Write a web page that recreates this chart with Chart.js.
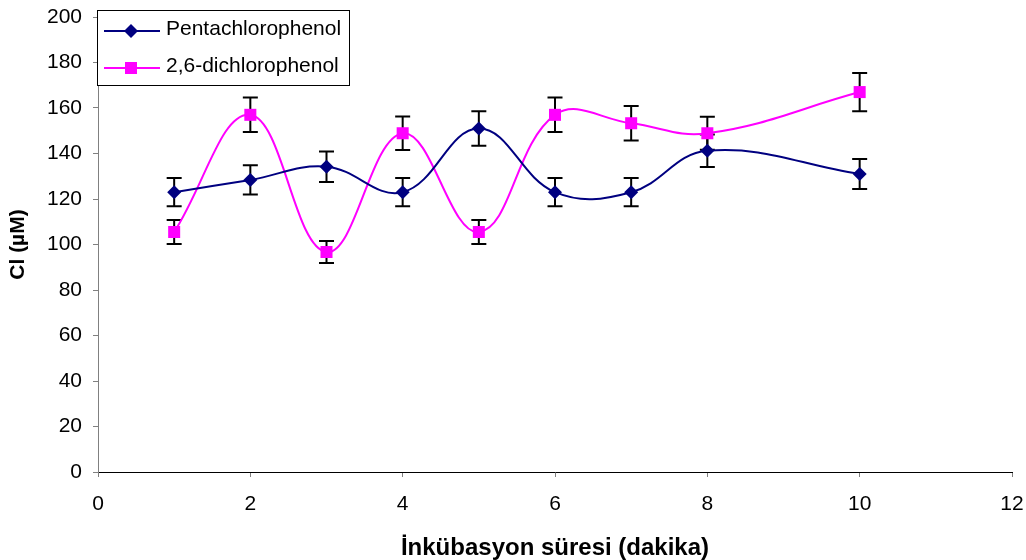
<!DOCTYPE html>
<html>
<head>
<meta charset="utf-8">
<script src="https://cdn.jsdelivr.net/npm/chart.js@4/dist/chart.umd.min.js"></script>
<style>
  html, body { margin: 0; padding: 0; background: #fff; }
  #wrap { width: 1026px; height: 560px; }
</style>
</head>
<body>
<div id="wrap"><canvas id="myChart"></canvas></div>
<script>
const minutes = [1, 2, 3, 4, 5, 6, 7, 8, 10];
const pcpValues = [123, 128.4, 134.2, 123, 151, 123, 123, 141.2, 131];
const pcpErrors = [6.2, 6.4, 6.7, 6.2, 7.6, 6.2, 6.2, 7.1, 6.6];
const dcpValues = [105.5, 157, 96.7, 148.9, 105.5, 157, 153.3, 148.9, 167];
const dcpErrors = [5.3, 7.6, 4.8, 7.4, 5.3, 7.6, 7.6, 7.2, 8.4];
const xTicks = [0, 2, 4, 6, 8, 10, 12];
const yTicks = [0, 20, 40, 60, 80, 100, 120, 140, 160, 180, 200];

const FONT = '"Liberation Sans", Arial, sans-serif';

function toPoints(xs, ys) {
    return xs.map((x, i) => ({ x: x, y: ys[i] }));
}

// error bars, drawn under the markers like Excel does
const errorBars = {
    id: 'errorBars',
    beforeDatasetsDraw(chart) {
        const ctx = chart.ctx;
        const xScale = chart.scales.x;
        const yScale = chart.scales.y;
        ctx.save();
        ctx.strokeStyle = '#000';
        ctx.lineWidth = 2;
        chart.data.datasets.forEach(ds => {
            ds.data.forEach((p, i) => {
                const px = xScale.getPixelForValue(p.x);
                const top = yScale.getPixelForValue(p.y + ds.errors[i]);
                const bot = yScale.getPixelForValue(p.y - ds.errors[i]);
                ctx.beginPath();
                ctx.moveTo(px, top);
                ctx.lineTo(px, bot);
                ctx.moveTo(px - 7.5, top);
                ctx.lineTo(px + 7.5, top);
                ctx.moveTo(px - 7.5, bot);
                ctx.lineTo(px + 7.5, bot);
                ctx.stroke();
            });
        });
        ctx.restore();
    }
};

function drawMarker(ctx, style, x, y, color) {
    ctx.fillStyle = color;
    ctx.beginPath();
    if (style === 'rectRot') {
        ctx.moveTo(x, y - 7);
        ctx.lineTo(x + 7, y);
        ctx.lineTo(x, y + 7);
        ctx.lineTo(x - 7, y);
        ctx.closePath();
    } else {
        ctx.rect(x - 6, y - 6, 12, 12);
    }
    ctx.fill();
}

// boxed legend sitting inside the plot, top left
const boxLegend = {
    id: 'boxLegend',
    afterDraw(chart) {
        const ctx = chart.ctx;
        ctx.save();
        ctx.fillStyle = '#fff';
        ctx.fillRect(97.5, 10.5, 252, 75);
        ctx.strokeStyle = '#000';
        ctx.lineWidth = 1;
        ctx.strokeRect(97.5, 10.5, 252, 75);
        const rows = [31, 68];
        chart.data.datasets.forEach((ds, i) => {
            const y = rows[i];
            ctx.strokeStyle = ds.borderColor;
            ctx.lineWidth = 2;
            ctx.beginPath();
            ctx.moveTo(104, y);
            ctx.lineTo(160, y);
            ctx.stroke();
            drawMarker(ctx, ds.pointStyle, 131, y, ds.backgroundColor);
            ctx.fillStyle = '#000';
            ctx.font = '21px ' + FONT;
            ctx.textBaseline = 'middle';
            ctx.fillText(ds.label, 166, y - 2);
        });
        ctx.restore();
    }
};

const ctx = document.getElementById('myChart').getContext('2d');
const myChart = new Chart(ctx, {
    type: 'line',
    data: {
        datasets: [{
            label: 'Pentachlorophenol',
            data: toPoints(minutes, pcpValues),
            errors: pcpErrors,
            borderColor: '#000080',
            backgroundColor: '#000080',
            borderWidth: 2,
            pointStyle: 'rectRot',
            pointRadius: 7,
            pointHoverRadius: 7,
            pointBorderWidth: 0,
            tension: 0.4
        }, {
            label: '2,6-dichlorophenol',
            data: toPoints(minutes, dcpValues),
            errors: dcpErrors,
            borderColor: '#ff00ff',
            backgroundColor: '#ff00ff',
            borderWidth: 2,
            pointStyle: 'rect',
            pointRadius: 8.5,
            pointHoverRadius: 8.5,
            pointBorderWidth: 0,
            tension: 0.4
        }]
    },
    options: {
        responsive: true,
        maintainAspectRatio: false,
        animation: false,
        layout: { padding: { top: 17, right: 14, left: 0, bottom: 0 } },
        plugins: {
            legend: { display: false },
            tooltip: { enabled: false }
        },
        scales: {
            x: {
                type: 'linear',
                min: 0,
                max: 12,
                afterBuildTicks: scale => { scale.ticks = xTicks.map(v => ({ value: v })); },
                afterFit: scale => {
                    scale.height = 88;
                    scale.paddingLeft = 0;
                    scale.paddingRight = 0;
                },
                grid: { drawOnChartArea: false, drawTicks: true, tickLength: 5, color: '#808080' },
                border: { color: '#000', width: 1 },
                ticks: { color: '#000', font: { family: FONT, size: 21 }, padding: 15, maxRotation: 0 },
                title: {
                    display: true,
                    text: 'İnkübasyon süresi (dakika)',
                    color: '#000',
                    font: { family: FONT, size: 24, weight: 'bold', lineHeight: 1 },
                    padding: { top: 0, bottom: 0 }
                }
            },
            y: {
                min: 0,
                max: 200,
                afterBuildTicks: scale => { scale.ticks = yTicks.map(v => ({ value: v })); },
                afterFit: scale => {
                    scale.width = 98;
                    scale.paddingTop = 0;
                    scale.paddingBottom = 0;
                },
                grid: { drawOnChartArea: false, drawTicks: true, tickLength: 5, color: '#808080' },
                border: { color: '#808080', width: 1 },
                ticks: { color: '#000', font: { family: FONT, size: 21 }, padding: 11 },
                title: {
                    display: true,
                    text: 'Cl (µM)',
                    color: '#000',
                    font: { family: FONT, size: 21, weight: 'bold' },
                    padding: { top: 6, bottom: 0 }
                }
            }
        }
    },
    plugins: [errorBars, boxLegend]
});
</script>
</body>
</html>
